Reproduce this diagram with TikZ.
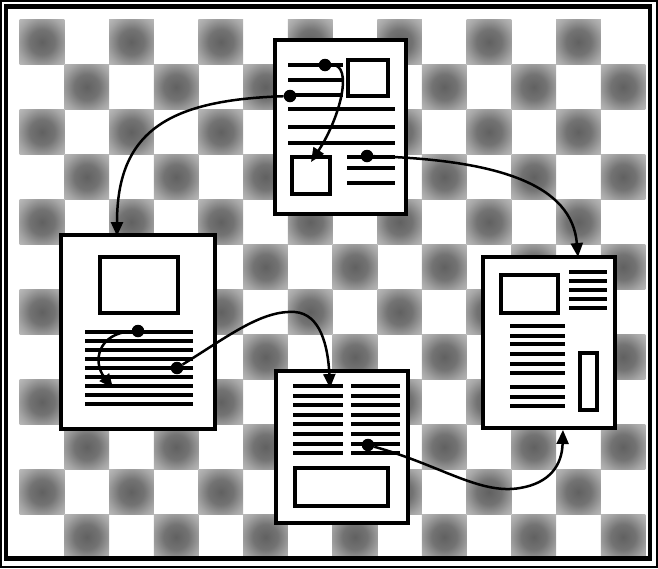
\documentclass[tikz,border=0pt]{standalone}
\usetikzlibrary{arrows.meta}
\pgfdeclareradialshading{cellshade}{\pgfpoint{0bp}{0bp}}{color(0bp)=(black!62);color(14bp)=(black!55);color(28bp)=(black!35);color(38bp)=(black!25);color(50bp)=(black!22)}
\begin{document}
\begin{tikzpicture}[x=1pt,y=-1pt,
  doc/.style={draw=black,line width=4pt,fill=white,rectangle,inner sep=0pt,outer sep=0pt},
  txt/.style={line width=3.2pt},
  picbox/.style={draw=black,line width=3.4pt,fill=white},
  dot/.style={circle,fill=black,inner sep=0pt,minimum size=12.5pt},
  flow/.style={line width=2.5pt,-{Triangle[length=14pt,width=12pt]}}]
\useasboundingbox (0,0) rectangle (658,568);
\fill[white] (0,0) rectangle (658,568);
% checkerboard
\begin{scope}
\clip (7,7) rectangle (648,556);
\foreach \i in {0,...,13}{\foreach \j in {0,...,11}{
  \pgfmathtruncatemacro{\pr}{mod(\i+\j,2)}
  \ifnum\pr=0
   \shade[shading=cellshade] ({42+44.7*\i-22.35},{42+45*\j-22.5}) rectangle +(44.7,45);
  \fi
}}
\end{scope}
% frame
\draw[line width=1.8pt] (1,1) rectangle (657,567);
\draw[line width=4.5pt] (6,6.5) rectangle (650,558.5);
% documents
\node[doc,minimum width=131pt,minimum height=174pt] (docA) at (340.5,127) {};
\node[doc,minimum width=154pt,minimum height=194pt] (docB) at (138,332) {};
\node[doc,minimum width=132pt,minimum height=152pt] (docC) at (342,447) {};
\node[doc,minimum width=132pt,minimum height=171pt] (docD) at (549,342.5) {};
% doc A content
\foreach \y/\a/\b in {65/288/343,80/288/343,95/290/343,109/288/395,127/288/395,143/288/395,157/347/395,168/347/395,183/347/395}
  \draw[txt] (\a,\y) -- (\b,\y);
\draw[picbox] (348,60) rectangle (388,96);
\draw[picbox] (292,157) rectangle (330,194);
% doc B content
\draw[picbox] (100,257) rectangle (178,313);
\foreach \k in {0,...,8}
  \draw[txt] (85,{332+9*\k}) -- (193,{332+9*\k});
% doc C content
\foreach \y in {386,396,405,415,424,434,444,453}{
  \draw[txt] (293,\y) -- (343,\y);
  \draw[txt] (351,\y) -- (400,\y);}
\draw[picbox] (295,468) rectangle (388,506);
% doc D content
\draw[picbox] (501,275) rectangle (558,313);
\foreach \y in {272,281,290,299,308}
  \draw[txt] (569,\y) -- (607,\y);
\foreach \y in {326,336,344,354,364,373,387,397,406}
  \draw[txt] (510,\y) -- (565,\y);
\draw[picbox] (580,353) rectangle (597,410);
% dots
\node[dot] (a1) at (325,65) {};
\node[dot] (a2) at (290,96) {};
\node[dot] (a3) at (367,156) {};
\node[dot] (b1) at (138,331) {};
\node[dot] (b2) at (177,368) {};
\node[dot] (c1) at (368,445) {};
% targets
\coordinate (tA) at (311,162);
\coordinate (tB) at (117,236);
\coordinate (tD) at (578,257);
\coordinate (tB2) at (113,388);
\coordinate (m1) at (295,312);
\coordinate (tC) at (330,388);
\coordinate (m2) at (520,488);
\coordinate (tD2) at (563,430);
% connectors
\draw[flow] (a1) .. controls (354,64) and (340,118) .. (tA);
\draw[flow] (a2) .. controls (170,100) and (117,130) .. (tB);
\draw[flow] (a3) .. controls (500,160) and (572,185) .. (tD);
\draw[flow] (b1) .. controls (98,333) and (92,362) .. (tB2);
\draw[flow] (b2) .. controls (230,335) and (262,310) .. (m1) .. controls (320,314) and (328,345) .. (tC);
\draw[flow] (c1) .. controls (440,465) and (480,495) .. (m2) .. controls (550,483) and (562,465) .. (tD2);
\end{tikzpicture}
\end{document}
